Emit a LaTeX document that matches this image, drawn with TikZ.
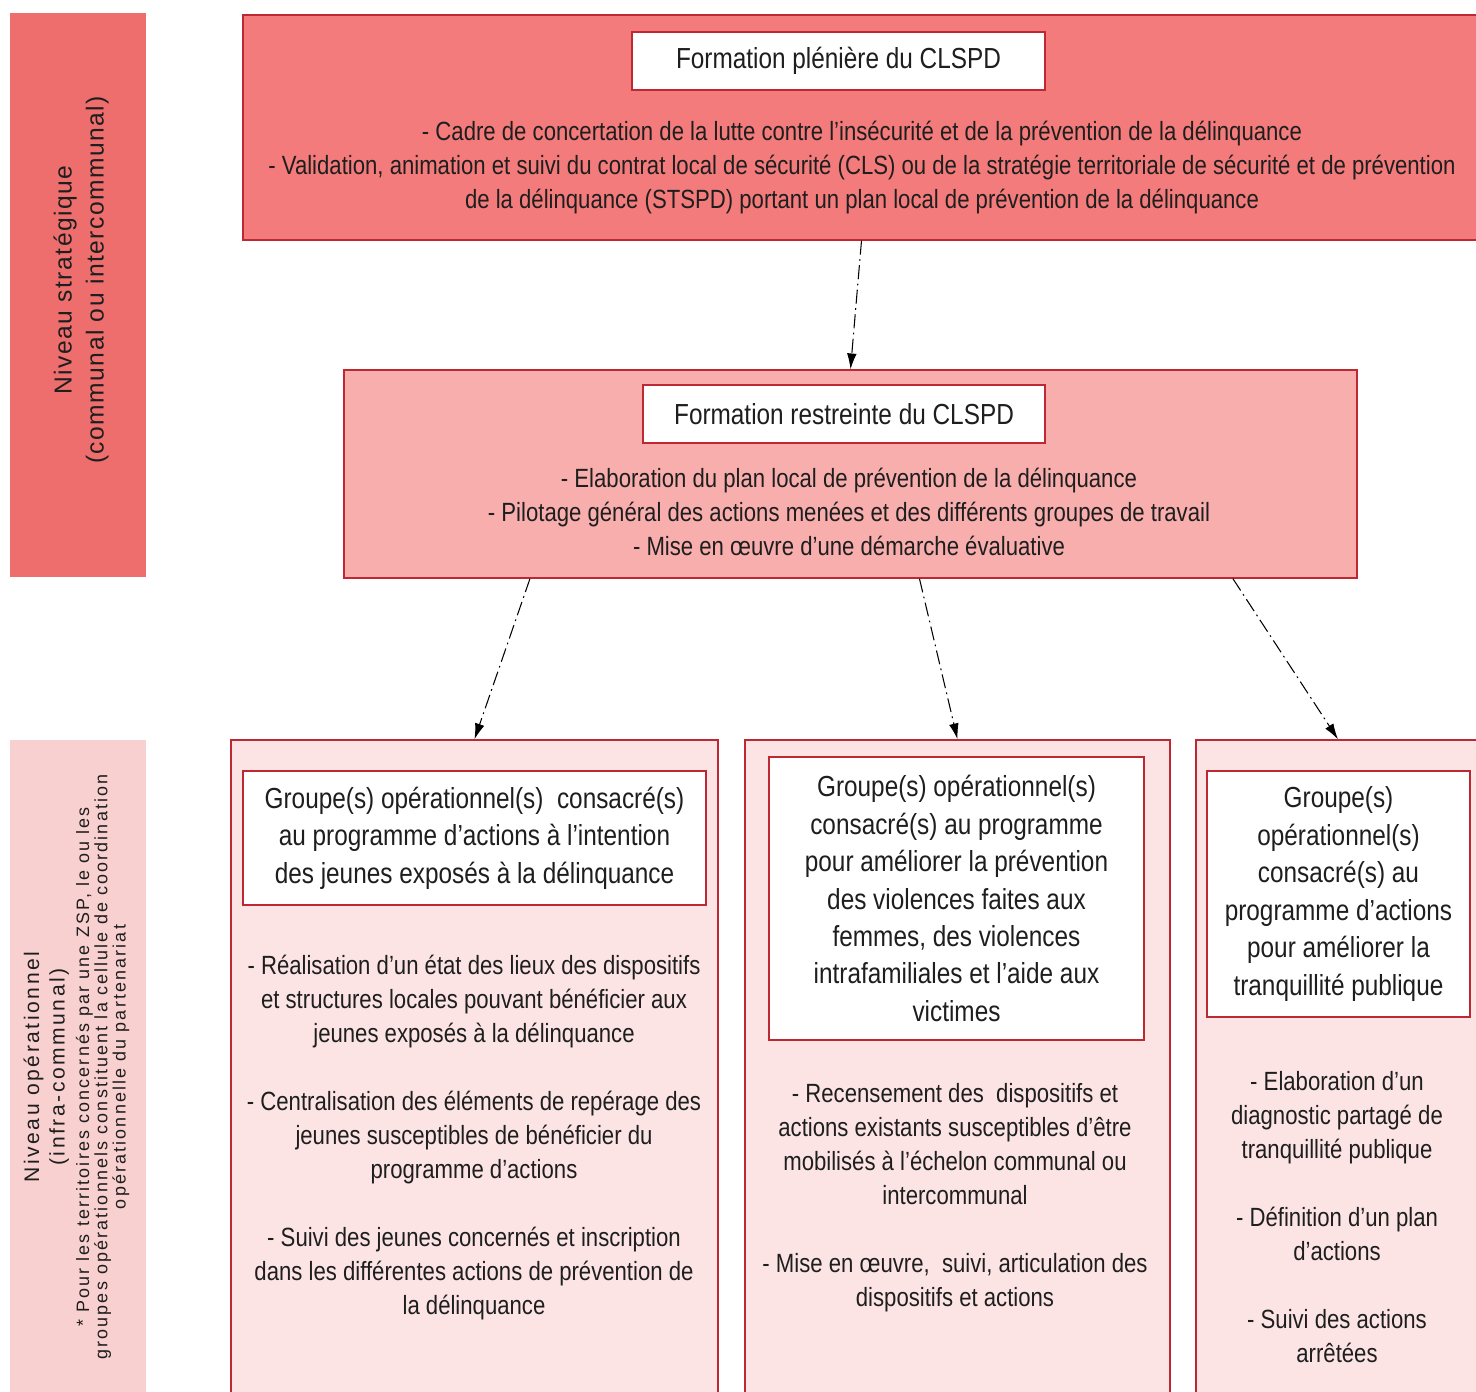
\documentclass[tikz,border=0pt]{standalone}
\usepackage{fontspec}
\setmainfont{Liberation Sans}
\newfontfamily\narrowfont[FakeStretch=0.84]{Liberation Sans}
\newfontfamily\spacedfont[LetterSpace=12]{Liberation Sans}
\newfontfamily\levelfont[LetterSpace=6]{Liberation Sans}
\usetikzlibrary{arrows.meta,calc}
\definecolor{stratred}{RGB}{238,110,110}
\definecolor{plenred}{RGB}{243,123,123}
\definecolor{restrpink}{RGB}{249,174,174}
\definecolor{grppink}{RGB}{252,228,228}
\definecolor{operpink}{RGB}{248,208,208}
\definecolor{borderred}{RGB}{190,40,50}
\definecolor{textgray}{RGB}{30,30,30}
\newcommand{\bodyfont}{\narrowfont\fontsize{15}{19.35}\selectfont}
\newcommand{\titlefont}{\narrowfont\fontsize{16.5}{21.3}\selectfont}
\tikzset{
  levelbar/.style={draw=none, minimum width=2.72cm, inner sep=0pt},
  framebox/.style={draw=borderred, line width=0.8pt, inner sep=0pt},
  titlebox/.style={draw=borderred, fill=white, line width=0.8pt, inner sep=0pt,
    font=\titlefont, align=center, text=textgray},
  bodytext/.style={font=\bodyfont, align=center, inner sep=0pt, text=textgray},
  sidetext/.style={rotate=90, align=center, inner sep=0pt, text=textgray},
  arrow/.style={-{Latex[length=9pt,width=5.5pt]}, line width=0.6pt,
    dash pattern=on 8pt off 2.5pt on 1pt off 2.5pt}
}

\begin{document}
\begin{tikzpicture}
  \useasboundingbox (0,0) rectangle (29.52,-27.84);
  % levels
  \node[levelbar, fill=stratred, minimum height=11.28cm] (strat) at (1.56,-5.9) {};
  \node[levelbar, fill=operpink, minimum height=13.1cm] (oper) at (1.56,-21.35) {};
  \node[sidetext, font=\levelfont\fontsize{14}{18.2}\selectfont] (stratTxt) at (1.62,-5.6)
    {Niveau stratégique\\(communal ou intercommunal)};
  \node[sidetext, font=\spacedfont\fontsize{10.2}{10.4}\selectfont] (operTxt) at (1.53,-21.34)
    {{\fontsize{12}{10.4}\selectfont Niveau opérationnel}\\[2.3pt]
     {\fontsize{12}{10.4}\selectfont (infra-communal)}\\[3.5pt]
     * Pour les territoires concernés par une ZSP, le ou les\\
     groupes opérationnels constituent la cellule de coordination\\
     opérationnelle du partenariat};
  % CLSPD boxes
  \node[framebox, fill=plenred, minimum width=24.74cm, minimum height=4.5cm] (plen) at (17.23,-2.55) {};
  \node[titlebox, minimum width=8.26cm, minimum height=1.16cm] (plenT) at (16.77,-1.22)
    {Formation plénière du CLSPD};
  \node[bodytext] (plenTxt) at (17.24,-3.36)
    {- Cadre de concertation de la lutte contre l’insécurité et de la prévention de la délinquance\\
     - Validation, animation et suivi du contrat local de sécurité (CLS) ou de la stratégie territoriale de sécurité et de prévention\\
     de la délinquance (STSPD) portant un plan local de prévention de la délinquance};
  \node[framebox, fill=restrpink, minimum width=20.26cm, minimum height=4.16cm] (restr) at (17.01,-9.48) {};
  \node[titlebox, minimum width=8.04cm, minimum height=1.16cm] (restrT) at (16.88,-8.28)
    {Formation restreinte du CLSPD};
  \node[bodytext] (restrTxt) at (16.98,-10.24)
    {- Elaboration du plan local de prévention de la délinquance\\
     - Pilotage général des actions menées et des différents groupes de travail\\
     - Mise en œuvre d’une démarche évaluative};
  % operational groups
  \node[framebox, fill=grppink, minimum width=9.74cm, minimum height=13.1cm] (grpA) at (9.49,-21.35) {};
  \node[framebox, fill=grppink, minimum width=8.5cm, minimum height=13.1cm] (grpB) at (19.15,-21.35) {};
  \node[framebox, fill=grppink, minimum width=5.68cm, minimum height=13.1cm] (grpC) at (26.76,-21.35) {};
  \node[titlebox, minimum width=9.26cm, minimum height=2.68cm] (grpAT) at (9.49,-16.76)
    {Groupe(s) opérationnel(s)~ consacré(s)\\au programme d’actions à l’intention\\des jeunes exposés à la délinquance};
  \node[titlebox, minimum width=7.5cm, minimum height=5.66cm] (grpBT) at (19.13,-17.97)
    {Groupe(s) opérationnel(s)\\consacré(s) au programme\\pour améliorer la prévention\\des violences faites aux\\femmes, des violences\\intrafamiliales et l’aide aux\\victimes};
  \node[titlebox, minimum width=5.26cm, minimum height=4.92cm] (grpCT) at (26.77,-17.88)
    {Groupe(s)\\opérationnel(s)\\consacré(s) au\\programme d’actions\\pour améliorer la\\tranquillité publique};
  \node[bodytext] (grpATxt) at (9.48,-22.76)
    {- Réalisation d’un état des lieux des dispositifs\\
     et structures locales pouvant bénéficier aux\\
     jeunes exposés à la délinquance\\[19.35pt]
     - Centralisation des éléments de repérage des\\
     jeunes susceptibles de bénéficier du\\
     programme d’actions\\[19.35pt]
     - Suivi des jeunes concernés et inscription\\
     dans les différentes actions de prévention de\\
     la délinquance};
  \node[bodytext] (grpBTxt) at (19.1,-23.96)
    {- Recensement des~ dispositifs et\\
     actions existants susceptibles d’être\\
     mobilisés à l’échelon communal ou\\
     intercommunal\\[19.35pt]
     - Mise en œuvre,~ suivi, articulation des\\
     dispositifs et actions};
  \node[bodytext] (grpCTxt) at (26.74,-24.35)
    {- Elaboration d’un\\
     diagnostic partagé de\\
     tranquillité publique\\[19.35pt]
     - Définition d’un plan\\
     d’actions\\[19.35pt]
     - Suivi des actions\\
     arrêtées};
  % links
  \draw[arrow] (plen.south) to (restr.north);
  \draw[arrow] ($(restr.south west)!0.184!(restr.south east)$) to (grpA.north);
  \draw[arrow] ($(restr.south west)!0.568!(restr.south east)$) to (grpB.north);
  \draw[arrow] ($(restr.south west)!0.877!(restr.south east)$) to (grpC.north);
\end{tikzpicture}
\end{document}
